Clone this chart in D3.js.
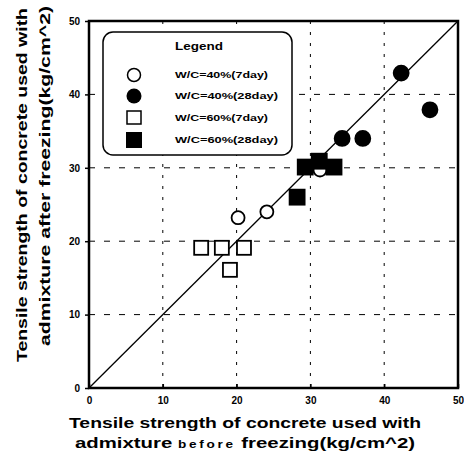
<!DOCTYPE html>
<html>
<head>
<meta charset="utf-8">
<script src="https://cdn.jsdelivr.net/npm/d3@7"></script>
<style>
  body { margin: 0; background: #fff; }
  text { font-family: "Liberation Sans", Arial, sans-serif; font-weight: bold; fill: #000; }
</style>
</head>
<body>
<div id="chart"></div>
<script>
// series: [before, after]
var wc40_7 = [[20.2, 23.2], [24.1, 24.0], [31.3, 29.7]];
var wc40_28 = [[42.3, 42.9], [46.2, 37.9], [34.3, 34.0], [37.1, 34.0]];
var wc60_7 = [[15.2, 19.1], [18.0, 19.1], [21.0, 19.1], [19.1, 16.1]];
var wc60_28 = [[28.2, 26.0], [29.3, 30.1], [33.2, 30.1], [31.2, 30.9]];
var ticks = [0, 10, 20, 30, 40, 50];
var legendLabels = ["W/C=40%(7day)", "W/C=40%(28day)", "W/C=60%(7day)", "W/C=60%(28day)"];
var legendWidths = [93, 103, 93, 103];

var width = 464, height = 459;
var pl = 89, pr = 458, pt = 21, pb = 388;

var svg = d3.select("#chart").append("svg")
  .attr("width", width).attr("height", height);

var x = d3.scaleLinear().domain([0, 50]).range([pl, pr]);
var y = d3.scaleLinear().domain([0, 50]).range([pb, pt]);

// grid lines
svg.selectAll(".hgrid").data(ticks.slice(1, 5)).enter().append("line")
  .attr("x1", pl).attr("x2", pr)
  .attr("y1", function(d){ return y(d); }).attr("y2", function(d){ return y(d); })
  .attr("stroke", "#000").attr("stroke-width", 1).attr("stroke-dasharray", "6,9");
svg.selectAll(".vgrid").data(ticks.slice(1, 5)).enter().append("line")
  .attr("y1", pt).attr("y2", pb)
  .attr("x1", function(d){ return x(d); }).attr("x2", function(d){ return x(d); })
  .attr("stroke", "#000").attr("stroke-width", 1).attr("stroke-dasharray", "3,8");

// diagonal 1:1 line
svg.append("line")
  .attr("x1", x(0)).attr("y1", y(0)).attr("x2", x(50)).attr("y2", y(50))
  .attr("stroke", "#000").attr("stroke-width", 1.3);

// axes
svg.append("g").attr("transform", "translate(" + pl + ",0)")
  .call(d3.axisLeft(y).tickValues(ticks).tickSize(4).tickPadding(5))
  .call(function(g){
    g.select(".domain").remove();
    g.selectAll("line").attr("stroke-width", 1.5);
    g.selectAll("text").style("font-size", "10px");
  });
svg.append("g").attr("transform", "translate(0," + pb + ")")
  .call(d3.axisBottom(x).tickValues(ticks).tickSize(-4).tickPadding(9))
  .call(function(g){
    g.select(".domain").remove();
    g.selectAll("line").attr("stroke-width", 1.5);
    g.selectAll("text").style("font-size", "10px");
  });

// frame
svg.append("rect")
  .attr("x", pl).attr("y", pt).attr("width", pr - pl).attr("height", pb - pt)
  .attr("fill", "none").attr("stroke", "#000").attr("stroke-width", 2.5);

// markers
function circles(data, fill, r) {
  svg.selectAll(null).data(data).enter().append("circle")
    .attr("cx", function(d){ return x(d[0]); })
    .attr("cy", function(d){ return y(d[1]); })
    .attr("r", r)
    .attr("fill", fill).attr("stroke", "#000").attr("stroke-width", 1.8);
}
function squares(data, fill, s) {
  svg.selectAll(null).data(data).enter().append("rect")
    .attr("x", function(d){ return x(d[0]) - s / 2; })
    .attr("y", function(d){ return y(d[1]) - s / 2; })
    .attr("width", s).attr("height", s)
    .attr("fill", fill).attr("stroke", "#000").attr("stroke-width", 1.8);
}
circles(wc40_7, "#fff", 6.5);
circles(wc40_28, "#000", 7.5);
squares(wc60_7, "#fff", 14);
squares(wc60_28, "#000", 15);

// legend
var lg = svg.append("g");
lg.append("rect")
  .attr("x", 103).attr("y", 32).attr("width", 189).attr("height", 123)
  .attr("rx", 10).attr("fill", "#fff").attr("stroke", "#000").attr("stroke-width", 1.5);
lg.append("text").attr("x", 175).attr("y", 50).style("font-size", "10px")
  .attr("textLength", 48).attr("lengthAdjust", "spacingAndGlyphs").text("Legend");
var rowY = [75, 96, 118, 140];
lg.append("circle").attr("cx", 134).attr("cy", rowY[0]).attr("r", 6.5)
  .attr("fill", "#fff").attr("stroke", "#000").attr("stroke-width", 1.5);
lg.append("circle").attr("cx", 134).attr("cy", rowY[1]).attr("r", 7.5).attr("fill", "#000");
lg.append("rect").attr("x", 127).attr("y", rowY[2] - 7).attr("width", 14).attr("height", 13)
  .attr("fill", "#fff").attr("stroke", "#000").attr("stroke-width", 1.5);
lg.append("rect").attr("x", 126).attr("y", rowY[3] - 8).attr("width", 16).attr("height", 16).attr("fill", "#000");
lg.selectAll(".lt").data(legendLabels).enter().append("text")
  .attr("x", 175).attr("y", function(d, i){ return rowY[i] + 3; })
  .style("font-size", "9px")
  .attr("textLength", function(d, i){ return legendWidths[i]; })
  .attr("lengthAdjust", "spacingAndGlyphs")
  .text(function(d){ return d; });

// axis titles
svg.append("text").attr("x", 245).attr("y", 428).attr("text-anchor", "middle")
  .style("font-size", "15px").attr("textLength", 352).attr("lengthAdjust", "spacingAndGlyphs")
  .text("Tensile strength of concrete used with");
var xt2 = svg.append("text").attr("x", 245).attr("y", 448).attr("text-anchor", "middle")
  .style("font-size", "15px").attr("textLength", 340).attr("lengthAdjust", "spacingAndGlyphs");
xt2.append("tspan").text("admixture  ");
xt2.append("tspan").style("font-size", "10px").attr("letter-spacing", "2").text("before");
xt2.append("tspan").text(" freezing(kg/cm^2)");

svg.append("text").attr("transform", "translate(27,185) rotate(-90)").attr("text-anchor", "middle")
  .style("font-size", "15px").attr("textLength", 354).attr("lengthAdjust", "spacingAndGlyphs")
  .text("Tensile strength of concrete used with");
svg.append("text").attr("transform", "translate(50,176) rotate(-90)").attr("text-anchor", "middle")
  .style("font-size", "15px").attr("textLength", 340).attr("lengthAdjust", "spacingAndGlyphs")
  .text("admixture after freezing(kg/cm^2)");
</script>
</body>
</html>
